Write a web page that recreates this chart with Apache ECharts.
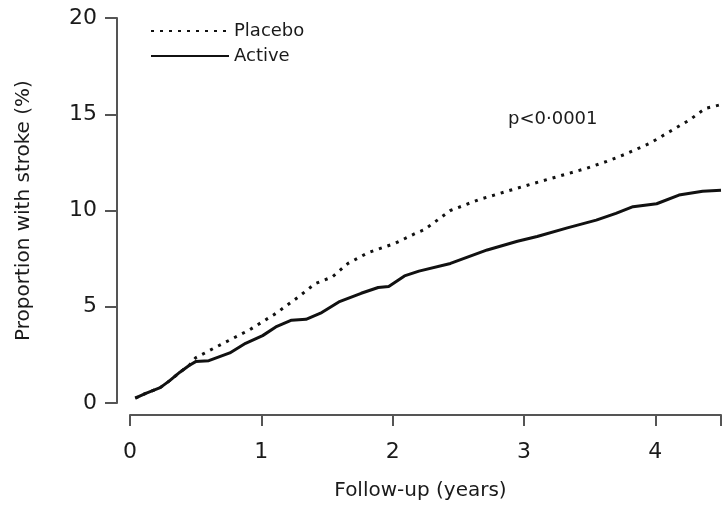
<!DOCTYPE html>
<html>
<head>
<meta charset="utf-8">
<script src="https://cdn.jsdelivr.net/npm/echarts@6/dist/echarts.min.js"></script>
<style>
  html, body { margin: 0; padding: 0; background: #fff; }
  #chart { width: 724px; height: 510px; }
</style>
</head>
<body>
<div id="chart"></div>
<script>
// follow-up in years, cumulative proportion with stroke (%)
const activeYears = [0.04, 0.12, 0.23, 0.30, 0.38, 0.45, 0.50, 0.60, 0.76, 0.88, 1.01, 1.11, 1.23, 1.34, 1.46, 1.59, 1.76, 1.89, 1.97, 2.09, 2.20, 2.44, 2.72, 2.95, 3.10, 3.33, 3.55, 3.70, 3.83, 4.01, 4.18, 4.36, 4.50];
const activeValues = [0.25, 0.5, 0.8, 1.15, 1.6, 1.95, 2.15, 2.2, 2.6, 3.1, 3.5, 3.95, 4.3, 4.35, 4.7, 5.25, 5.7, 6.0, 6.05, 6.6, 6.85, 7.25, 7.95, 8.4, 8.65, 9.1, 9.5, 9.85, 10.2, 10.35, 10.8, 11.0, 11.05];

const placeboYears = [0.04, 0.12, 0.23, 0.30, 0.38, 0.45, 0.50, 0.71, 0.91, 1.11, 1.28, 1.41, 1.54, 1.66, 1.81, 2.02, 2.17, 2.24, 2.44, 2.65, 2.87, 3.07, 3.25, 3.48, 3.63, 3.78, 3.96, 4.11, 4.26, 4.38, 4.50];
const placeboValues = [0.25, 0.5, 0.8, 1.15, 1.6, 1.95, 2.35, 3.1, 3.8, 4.65, 5.5, 6.2, 6.55, 7.25, 7.8, 8.3, 8.8, 9.0, 10.0, 10.55, 11.0, 11.4, 11.75, 12.2, 12.55, 12.95, 13.5, 14.1, 14.7, 15.3, 15.5];

const xTicks = [0, 1, 2, 3, 4];
const yTicks = [0, 5, 10, 15, 20];
const pText = 'p<0·0001';

const font = 'DejaVu Sans';
const ink = '#1a1a1a';

const chart = echarts.init(document.getElementById('chart'));

function pairs(xs, ys) {
  return xs.map((x, i) => [x, ys[i]]);
}

chart.setOption({
  animation: false,
  textStyle: { fontFamily: font, color: ink },
  grid: { left: 130, right: 0, top: 18, bottom: 107 },
  legend: {
    orient: 'vertical',
    left: 150,
    top: 22,
    padding: 0,
    itemWidth: 78,
    itemHeight: 14,
    itemGap: 7,
    itemStyle: { opacity: 0 },
    textStyle: { fontFamily: font, fontSize: 18, color: ink },
    data: ['Placebo', 'Active'],
  },
  xAxis: {
    type: 'value',
    min: 0,
    max: 4.5,
    interval: 1,
    offset: 12,
    name: 'Follow-up (years)',
    nameLocation: 'middle',
    nameGap: 66,
    nameTextStyle: { fontFamily: font, fontSize: 20, color: ink, padding: [0, 10, 0, 0] },
    axisLine: { show: true, onZero: false, lineStyle: { color: '#555', width: 2 } },
    axisTick: { show: true, length: 11, lineStyle: { color: '#555', width: 2 } },
    axisLabel: {
      fontFamily: font,
      fontSize: 22,
      color: ink,
      margin: 26,
      formatter: (v) => (xTicks.includes(v) ? String(v) : ''),
    },
    splitLine: { show: false },
  },
  yAxis: {
    type: 'value',
    min: 0,
    max: 20,
    interval: 5,
    offset: 13,
    name: 'Proportion with stroke (%)',
    nameLocation: 'middle',
    nameGap: 83,
    nameTextStyle: { fontFamily: font, fontSize: 20, color: ink },
    axisLine: { show: true, onZero: false, lineStyle: { color: '#555', width: 2 } },
    axisTick: { show: true, length: 12, lineStyle: { color: '#555', width: 2 } },
    axisLabel: {
      fontFamily: font,
      fontSize: 22,
      color: ink,
      margin: 20,
      formatter: (v) => (yTicks.includes(v) ? String(v) : ''),
    },
    splitLine: { show: false },
  },
  graphic: [
    {
      type: 'text',
      left: 508,
      top: 110,
      style: { text: pText, fontFamily: font, fontSize: 18, fill: ink },
    },
  ],
  series: [
    {
      name: 'Placebo',
      type: 'line',
      data: pairs(placeboYears, placeboValues),
      symbol: 'none',
      z: 2,
      lineStyle: { color: '#111', width: 3, type: [3, 6] },
      itemStyle: { color: '#111' },
    },
    {
      name: 'Active',
      type: 'line',
      data: pairs(activeYears, activeValues),
      symbol: 'none',
      z: 3,
      lineStyle: { color: '#111', width: 3 },
      itemStyle: { color: '#111' },
    },
  ],
});
</script>
</body>
</html>
